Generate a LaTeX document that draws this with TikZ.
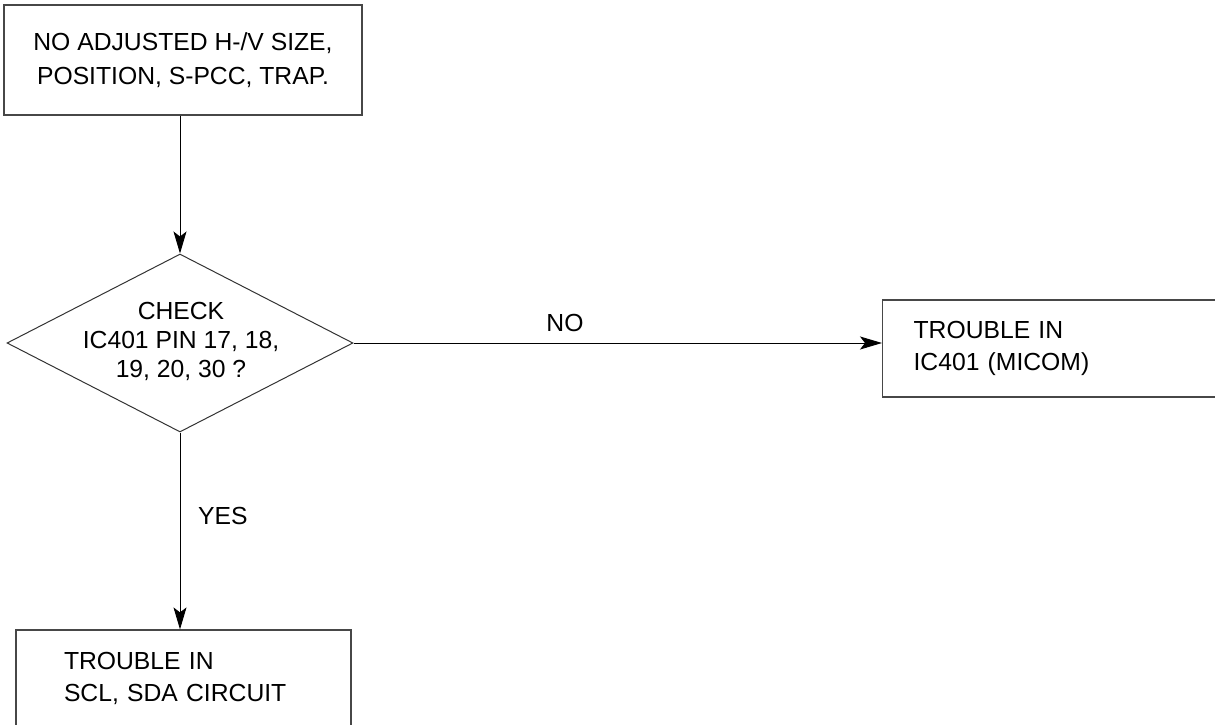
\documentclass[tikz,border=0pt]{standalone}
\usepackage{fontspec}
\setmainfont{Liberation Sans}
\usetikzlibrary{shapes.geometric,arrows.meta}
\begin{document}
\begin{tikzpicture}[x=1pt,y=-1pt,
  box/.style={draw=black!72, line width=1.2pt, rectangle, inner ysep=0pt},
  txt/.style={font=\fontsize{24.7}{#1}\selectfont},
  txt/.default=32,
  flow/.style={draw=black, line width=0.9pt,
    -{Stealth[length=22pt,width=13pt,inset=5pt]}},
  lbl/.style={font=\fontsize{24.7}{30}\selectfont, inner sep=0pt}]
\useasboundingbox (0,0) rectangle (1215,725);

% start box
\node[box, txt=34, align=center, minimum width=358pt, minimum height=110pt,
  inner xsep=0pt] (start) at (183,60)
  {NO ADJUSTED H-/V SIZE,\\POSITION, S-PCC, TRAP.};

% decision
\node[draw=black!80, line width=1pt, shape=diamond, inner sep=0pt,
  minimum width=346pt, minimum height=178pt] (check) at (180,343) {};
\node[txt=29, align=center, inner sep=0pt] (checktext) at (181,341)
  {CHECK\\IC401 PIN 17, 18,\\19, 20, 30 ?};

% results
\node[box, txt, align=left, text width=279pt, inner xsep=31pt,
  minimum height=97pt, anchor=west] (micom) at (882,348.5)
  {TROUBLE IN\\IC401 (MICOM)};
\node[box, txt, align=left, text width=239pt, inner xsep=48pt,
  minimum height=97pt] (scl) at (183.5,678.5)
  {TROUBLE IN\\SCL, SDA CIRCUIT};

% connectors
\draw[flow] (check.north |- start.south) -- (check.north);
\draw[flow] (check.east) -- (check.east -| micom.west);
\draw[flow] (check.south) -- (check.south |- scl.north);

% branch labels
\node[lbl, anchor=base] (nolbl) at (565,331) {NO};
\node[lbl, anchor=base west] (yeslbl) at (198,524) {YES};
\end{tikzpicture}
\end{document}
